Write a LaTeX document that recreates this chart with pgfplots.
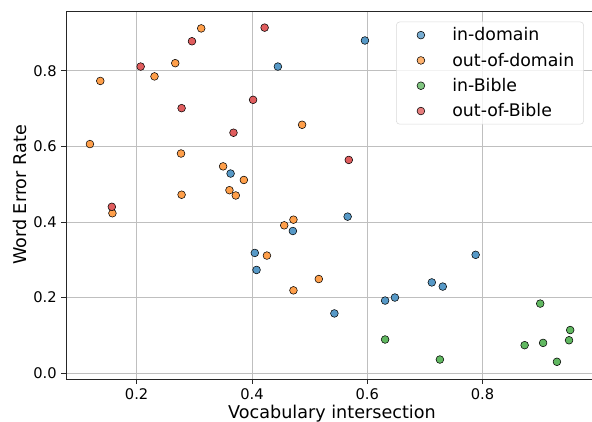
\documentclass[border=0pt]{standalone}
\usepackage{fontspec}
\setmainfont{DejaVu Sans}
\usepackage{pgfplots}
\pgfplotsset{compat=1.18}
\definecolor{tabblue}{HTML}{1F77B4}
\definecolor{taborange}{HTML}{FF7F0E}
\definecolor{tabgreen}{HTML}{2CA02C}
\definecolor{tabred}{HTML}{D62728}
\definecolor{edgec}{HTML}{3A3A3A}
\begin{document}
\begin{tikzpicture}
\begin{axis}[
  at={(0,0)}, anchor=south west,
  scale only axis,
  width=398.9pt, height=276pt,
  xmin=0.0775, xmax=1.0,
  ymin=-0.0155, ymax=0.958,
  xtick={0.2,0.4,0.6,0.8},
  ytick={0,0.2,0.4,0.6,0.8},
  xticklabel style={/pgf/number format/.cd,fixed,fixed zerofill,precision=1},
  yticklabel style={/pgf/number format/.cd,fixed,fixed zerofill,precision=1},
  /pgf/number format/assume math mode=true,
  tick label style={font=\fontsize{11}{13}\selectfont},
  label style={font=\fontsize{13.2}{15}\selectfont},
  xlabel={Vocabulary intersection},
  ylabel={Word Error Rate},
  xlabel style={yshift=2.5pt},
  ylabel style={yshift=-2pt},
  grid=major,
  major grid style={line width=0.6pt, draw=black!25},
  tick align=outside, tick pos=left,
  major tick length=3.5pt,
  axis line style={line width=0.6pt, black!85},
  every tick/.style={black!85, line width=0.6pt},
  legend style={at={(rel axis cs:1,1)}, anchor=north east, xshift=-10.5pt, yshift=-8pt,
    font=\fontsize{13}{15}\selectfont, draw=black!15, rounded corners=2.5pt,
    fill=white, fill opacity=0.8, text opacity=1, inner xsep=5pt, inner ysep=2.2pt, row sep=3.6pt,
    /tikz/every odd column/.append style={column sep=18pt}},
  legend image code/.code={\path[draw=none,fill=none] (0pt,0pt) -- (17pt,0pt);
     \draw[#1] plot[only marks] coordinates {(13.4pt,0pt)};},
  legend cell align=left,
  every axis plot/.append style={only marks, mark=*, mark size=2.9pt,
     mark options={draw=edgec, line width=0.55pt}},
]
% in-domain
\addplot[mark options={fill=tabblue!75!white}] coordinates {
(0.445,0.811) (0.596,0.880) (0.363,0.528) (0.471,0.376) (0.405,0.318) (0.408,0.273)
(0.566,0.414) (0.788,0.313) (0.712,0.240) (0.731,0.229) (0.631,0.192) (0.648,0.200) (0.543,0.158)
};
\addlegendentry{in-domain}
% out-of-domain
\addplot[mark options={fill=taborange!75!white}] coordinates {
(0.312,0.912) (0.267,0.820) (0.231,0.785) (0.137,0.773) (0.487,0.657) (0.119,0.606)
(0.277,0.581) (0.350,0.547) (0.386,0.511) (0.278,0.472) (0.361,0.484) (0.372,0.470)
(0.158,0.423) (0.472,0.406) (0.456,0.391) (0.426,0.311) (0.516,0.249) (0.472,0.219)
};
\addlegendentry{out-of-domain}
% in-Bible
\addplot[mark options={fill=tabgreen!75!white}] coordinates {
(0.900,0.184) (0.952,0.114) (0.950,0.087) (0.905,0.080) (0.873,0.074) (0.929,0.030)
(0.631,0.089) (0.726,0.036)
};
\addlegendentry{in-Bible}
% out-of-Bible
\addplot[mark options={fill=tabred!75!white}] coordinates {
(0.422,0.914) (0.296,0.878) (0.207,0.811) (0.402,0.723) (0.278,0.701) (0.368,0.636)
(0.568,0.564) (0.157,0.440)
};
\addlegendentry{out-of-Bible}
\end{axis}
\pgfresetboundingbox
\useasboundingbox (-49.5pt,-31.5pt) rectangle (394.5pt,284.25pt);
\end{tikzpicture}
\end{document}
